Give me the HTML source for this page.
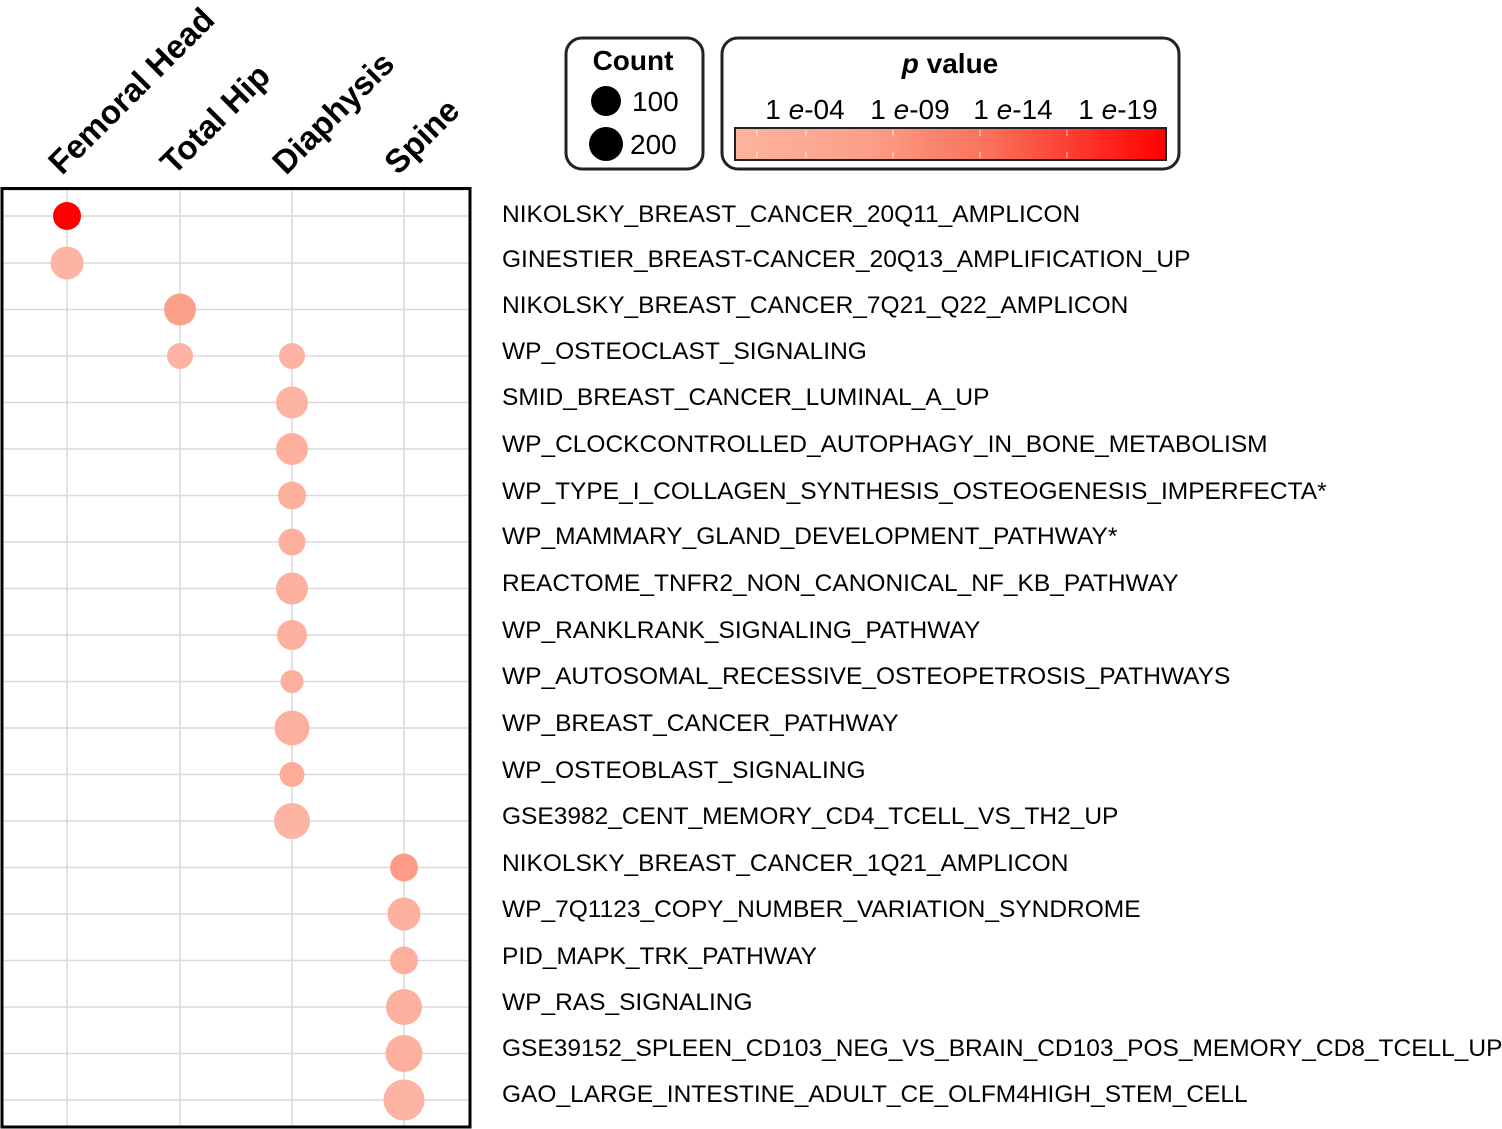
<!DOCTYPE html>
<html><head><meta charset="utf-8"><style>
html,body{margin:0;padding:0;background:#fff;}
svg{display:block;font-family:"Liberation Sans",Arial,sans-serif;}
</style></head><body>
<svg width="1502" height="1129" viewBox="0 0 1502 1129" xmlns="http://www.w3.org/2000/svg">
<defs>
<linearGradient id="pg" x1="0" x2="1" y1="0" y2="0">
<stop offset="0" stop-color="#fdb4a0"/>
<stop offset="0.3" stop-color="#fca08a"/>
<stop offset="0.6" stop-color="#fb6e58"/>
<stop offset="1" stop-color="#ff0000"/>
</linearGradient>
</defs>
<!-- headers -->
<g font-weight="bold" font-size="33" fill="#000">
<text transform="translate(62,176) rotate(-45)">Femoral Head</text>
<text transform="translate(174,176) rotate(-45)">Total Hip</text>
<text transform="translate(286,176) rotate(-45)">Diaphysis</text>
<text transform="translate(398,176) rotate(-45)">Spine</text>
</g>
<!-- legends -->
<rect x="566" y="38" width="137" height="131" rx="16" fill="#fff" stroke="#222" stroke-width="3"/>
<text x="633" y="70" text-anchor="middle" font-size="28" font-weight="bold">Count</text>
<circle cx="606" cy="101" r="15" fill="#000"/>
<circle cx="606" cy="144" r="17" fill="#000"/>
<text x="632" y="111" font-size="28">100</text>
<text x="630" y="154" font-size="28">200</text>
<rect x="722" y="38" width="457" height="131" rx="16" fill="#fff" stroke="#222" stroke-width="3"/>
<text x="950" y="73" text-anchor="middle" font-size="28" font-weight="bold"><tspan font-style="italic">p</tspan> value</text>
<g font-size="28">
<text x="805" y="119" text-anchor="middle">1 <tspan font-style="italic">e</tspan>-04</text>
<text x="910" y="119" text-anchor="middle">1 <tspan font-style="italic">e</tspan>-09</text>
<text x="1013" y="119" text-anchor="middle">1 <tspan font-style="italic">e</tspan>-14</text>
<text x="1118" y="119" text-anchor="middle">1 <tspan font-style="italic">e</tspan>-19</text>
</g>
<rect x="735" y="128" width="431" height="32" fill="url(#pg)" stroke="#222" stroke-width="2"/>
<g stroke="#fff" stroke-width="1" opacity="0.8">
<line x1="806" y1="130" x2="806" y2="136"/><line x1="806" y1="152" x2="806" y2="158"/>
<line x1="893" y1="130" x2="893" y2="136"/><line x1="893" y1="152" x2="893" y2="158"/>
<line x1="980" y1="130" x2="980" y2="136"/><line x1="980" y1="152" x2="980" y2="158"/>
<line x1="1067" y1="130" x2="1067" y2="136"/><line x1="1067" y1="152" x2="1067" y2="158"/>
<line x1="757" y1="130" x2="757" y2="136"/><line x1="757" y1="152" x2="757" y2="158"/>
</g>
<!-- grid -->
<g stroke="#d9d9d9" stroke-width="1.5">
<line x1="67" y1="188" x2="67" y2="1127"/><line x1="180" y1="188" x2="180" y2="1127"/>
<line x1="292" y1="188" x2="292" y2="1127"/><line x1="404" y1="188" x2="404" y2="1127"/>
<line x1="2" y1="190" x2="470" y2="190"/>
<line x1="2" y1="216" x2="470" y2="216"/><line x1="2" y1="263" x2="470" y2="263"/>
<line x1="2" y1="309.5" x2="470" y2="309.5"/><line x1="2" y1="356" x2="470" y2="356"/>
<line x1="2" y1="402.5" x2="470" y2="402.5"/><line x1="2" y1="449" x2="470" y2="449"/>
<line x1="2" y1="495.5" x2="470" y2="495.5"/><line x1="2" y1="542" x2="470" y2="542"/>
<line x1="2" y1="588.5" x2="470" y2="588.5"/><line x1="2" y1="635" x2="470" y2="635"/>
<line x1="2" y1="681.5" x2="470" y2="681.5"/><line x1="2" y1="728" x2="470" y2="728"/>
<line x1="2" y1="774.5" x2="470" y2="774.5"/><line x1="2" y1="821" x2="470" y2="821"/>
<line x1="2" y1="867.5" x2="470" y2="867.5"/><line x1="2" y1="914" x2="470" y2="914"/>
<line x1="2" y1="960.5" x2="470" y2="960.5"/><line x1="2" y1="1007" x2="470" y2="1007"/>
<line x1="2" y1="1053.5" x2="470" y2="1053.5"/><line x1="2" y1="1100" x2="470" y2="1100"/>
</g>
<!-- dots -->
<circle cx="67" cy="216" r="14" fill="#ff0000"/>
<circle cx="67" cy="263" r="16.5" fill="#fdb4a2"/>
<circle cx="180" cy="309.5" r="16" fill="#fca08a"/>
<circle cx="180" cy="356" r="13" fill="#fdb4a2"/>
<circle cx="292" cy="356" r="13" fill="#fdb4a2"/>
<circle cx="292" cy="402.5" r="16" fill="#fdb4a2"/>
<circle cx="292" cy="449" r="16" fill="#fdb09e"/>
<circle cx="292" cy="495.5" r="14" fill="#fdb09e"/>
<circle cx="292" cy="542" r="13.5" fill="#fdb09e"/>
<circle cx="292" cy="588.5" r="16" fill="#fdb09e"/>
<circle cx="292" cy="635" r="15" fill="#fdb09e"/>
<circle cx="292" cy="681.5" r="11.5" fill="#fdb09e"/>
<circle cx="292" cy="728" r="17.5" fill="#fdb09e"/>
<circle cx="292" cy="774.5" r="12.5" fill="#fdac9a"/>
<circle cx="292" cy="821" r="18" fill="#fdb4a2"/>
<circle cx="404" cy="867.5" r="14" fill="#fc9c86"/>
<circle cx="404" cy="914" r="16.5" fill="#fdb09e"/>
<circle cx="404" cy="960.5" r="14" fill="#fdb09e"/>
<circle cx="404" cy="1007" r="18" fill="#fdb09e"/>
<circle cx="404" cy="1053.5" r="18.5" fill="#fdb09e"/>
<circle cx="404" cy="1100" r="20.5" fill="#fdb4a2"/>
<rect x="2" y="188.5" width="468" height="938.5" fill="none" stroke="#000" stroke-width="3"/>
<!-- labels -->
<g font-size="24.5" fill="#000">
<text x="502" y="222">NIKOLSKY_BREAST_CANCER_20Q11_AMPLICON</text>
<text x="502" y="267">GINESTIER_BREAST-CANCER_20Q13_AMPLIFICATION_UP</text>
<text x="502" y="313">NIKOLSKY_BREAST_CANCER_7Q21_Q22_AMPLICON</text>
<text x="502" y="359">WP_OSTEOCLAST_SIGNALING</text>
<text x="502" y="405">SMID_BREAST_CANCER_LUMINAL_A_UP</text>
<text x="502" y="452">WP_CLOCKCONTROLLED_AUTOPHAGY_IN_BONE_METABOLISM</text>
<text x="502" y="499">WP_TYPE_I_COLLAGEN_SYNTHESIS_OSTEOGENESIS_IMPERFECTA*</text>
<text x="502" y="544">WP_MAMMARY_GLAND_DEVELOPMENT_PATHWAY*</text>
<text x="502" y="591">REACTOME_TNFR2_NON_CANONICAL_NF_KB_PATHWAY</text>
<text x="502" y="638">WP_RANKLRANK_SIGNALING_PATHWAY</text>
<text x="502" y="684">WP_AUTOSOMAL_RECESSIVE_OSTEOPETROSIS_PATHWAYS</text>
<text x="502" y="731">WP_BREAST_CANCER_PATHWAY</text>
<text x="502" y="778">WP_OSTEOBLAST_SIGNALING</text>
<text x="502" y="824">GSE3982_CENT_MEMORY_CD4_TCELL_VS_TH2_UP</text>
<text x="502" y="871">NIKOLSKY_BREAST_CANCER_1Q21_AMPLICON</text>
<text x="502" y="917">WP_7Q1123_COPY_NUMBER_VARIATION_SYNDROME</text>
<text x="502" y="964">PID_MAPK_TRK_PATHWAY</text>
<text x="502" y="1010">WP_RAS_SIGNALING</text>
<text x="502" y="1056">GSE39152_SPLEEN_CD103_NEG_VS_BRAIN_CD103_POS_MEMORY_CD8_TCELL_UP</text>
<text x="502" y="1102">GAO_LARGE_INTESTINE_ADULT_CE_OLFM4HIGH_STEM_CELL</text>
</g>
</svg>
</body></html>
